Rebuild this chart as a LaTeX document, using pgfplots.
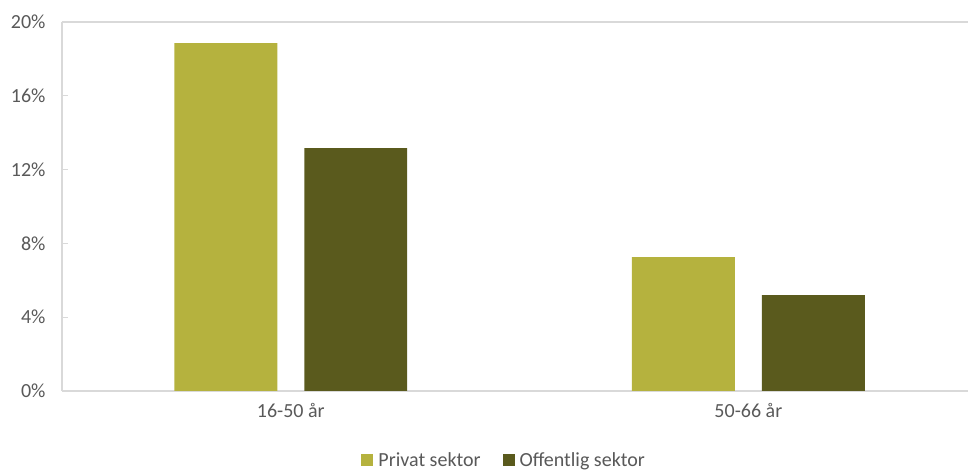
\documentclass[border=0pt]{standalone}
\usepackage{fontspec}
\setmainfont{Carlito}
\usepackage{pgfplots}
\pgfplotsset{compat=1.18}
\definecolor{privat}{RGB}{181,178,62}
\definecolor{offentlig}{RGB}{90,90,29}
\definecolor{txt}{RGB}{89,89,89}
\definecolor{axline}{RGB}{217,217,217}
\begin{document}
\begin{tikzpicture}
\path[use as bounding box] (-62pt,-79pt) rectangle (906pt,391pt);
\begin{axis}[
    at={(0,0)}, anchor=south west,
    scale only axis,
    width=906pt, height=369pt,
    xmin=-0.5, xmax=1.48,
    ymin=0, ymax=20,
    axis x line*=bottom,
    axis y line*=left,
    axis line style={axline, line width=1.2pt},
    ytick={0,4,...,20},
    yticklabel={\pgfmathprintnumber{\tick}\%},
    xtick={0,1},
    xticklabels={16-50 år, 50-66 år},
    major tick length=6pt,
    tick align=inside,
    xtick style={draw=none},
    ytick style={axline, line width=1pt},
    tick label style={font=\fontsize{20}{23}\selectfont, text=txt},
    /pgf/number format/assume math mode=true,
    yticklabel shift=13pt,
    xticklabel shift=9pt,
    legend columns=2,
    legend style={draw=none, at={(0.488,-0.187)}, anchor=center,
        font=\fontsize{20}{23}\selectfont, text=txt,
        /tikz/every odd column/.append style={column sep=3pt},
        /tikz/every even column/.append style={column sep=20pt}},
]
\addplot[ybar, bar width=0.225, bar shift=-0.142, fill=privat, draw=none,
    legend image code/.code={\fill[privat] (0pt,-6pt) rectangle (12pt,6pt);}]
    coordinates {(0,18.85) (1,7.26)};
\addlegendentry{Privat sektor}
\addplot[ybar, bar width=0.225, bar shift=0.142, fill=offentlig, draw=none,
    legend image code/.code={\fill[offentlig] (0pt,-6pt) rectangle (12pt,6pt);}]
    coordinates {(0,13.17) (1,5.2)};
\addlegendentry{Offentlig sektor}
\draw[axline, line width=1.2pt] (rel axis cs:0,1) -- (rel axis cs:1,1);
\end{axis}
\end{tikzpicture}
\end{document}
